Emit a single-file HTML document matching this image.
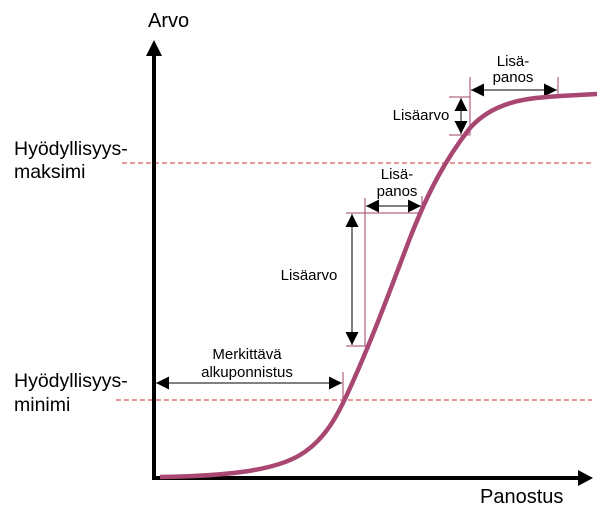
<!DOCTYPE html>
<html><head><meta charset="utf-8"><style>html,body{margin:0;padding:0;background:#fff}svg{display:block}text{font-family:"Liberation Sans",Arial,sans-serif;fill:#000}</style></head>
<body>
<svg width="608" height="521" viewBox="0 0 608 521" xmlns="http://www.w3.org/2000/svg">
<defs>
<marker id="b" viewBox="0 0 10 10" refX="10" refY="5" markerWidth="14" markerHeight="13" markerUnits="userSpaceOnUse" orient="auto-start-reverse"><path d="M0,0L10,5L0,10z" fill="#000"/></marker>
</defs>
<line x1="122" y1="163" x2="592" y2="163" stroke="#d83030" stroke-width="1" stroke-dasharray="5,3"/>
<line x1="116" y1="400" x2="592" y2="400" stroke="#d83030" stroke-width="1" stroke-dasharray="5,3"/>
<line x1="154" y1="478" x2="154" y2="54" stroke="#000" stroke-width="4"/>
<path d="M146,56L154,40L162,56z" fill="#000"/>
<line x1="152" y1="478" x2="580" y2="478" stroke="#000" stroke-width="4"/>
<path d="M578,470L593,478L578,486z" fill="#000"/>
<g stroke="#a04068" stroke-width="1" fill="none">
<line x1="343" y1="372" x2="343" y2="400"/>
<line x1="346" y1="213" x2="420" y2="213"/>
<line x1="346" y1="346" x2="368" y2="346"/>
<line x1="365" y1="198" x2="365" y2="346"/>
<line x1="422" y1="196" x2="422" y2="212"/>
<line x1="449" y1="97" x2="470" y2="97"/>
<line x1="449" y1="135" x2="470" y2="135"/>
<line x1="470" y1="77" x2="470" y2="135"/>
<line x1="558" y1="77" x2="558" y2="97"/>
</g>
<g stroke="#000" stroke-width="1">
<line x1="156" y1="383" x2="342" y2="383" marker-start="url(#b)" marker-end="url(#b)"/>
<line x1="352" y1="214" x2="352" y2="345" marker-start="url(#b)" marker-end="url(#b)"/>
<line x1="366" y1="206" x2="421" y2="206" marker-start="url(#b)" marker-end="url(#b)"/>
<line x1="461" y1="98" x2="461" y2="134" marker-start="url(#b)" marker-end="url(#b)"/>
<line x1="471" y1="90" x2="557" y2="90" marker-start="url(#b)" marker-end="url(#b)"/>
</g>
<path d="M160,477 C230,476 275,470 300,455 C325,440 338,415 350,388 C372,340 392,285 410,238 C428,192 445,160 470,128 C495,100 530,98 560,96 L597,94" fill="none" stroke="#a84872" stroke-width="4.5"/>
<text x="148" y="27" font-size="20">Arvo</text>
<text x="480" y="503" font-size="20">Panostus</text>
<text x="14" y="155" font-size="19.5">Hyödyllisyys-</text>
<text x="14" y="178" font-size="19.5">maksimi</text>
<text x="14" y="387" font-size="19.5">Hyödyllisyys-</text>
<text x="14" y="411" font-size="19.5">minimi</text>
<g font-size="15" text-anchor="middle">
<text x="247" y="359">Merkittävä</text>
<text x="247" y="377">alkuponnistus</text>
<text x="309" y="280">Lisäarvo</text>
<text x="397" y="179">Lisä-</text>
<text x="397" y="196">panos</text>
<text x="421" y="120">Lisäarvo</text>
<text x="513" y="66">Lisä-</text>
<text x="513" y="82">panos</text>
</g>
</svg>
</body></html>
